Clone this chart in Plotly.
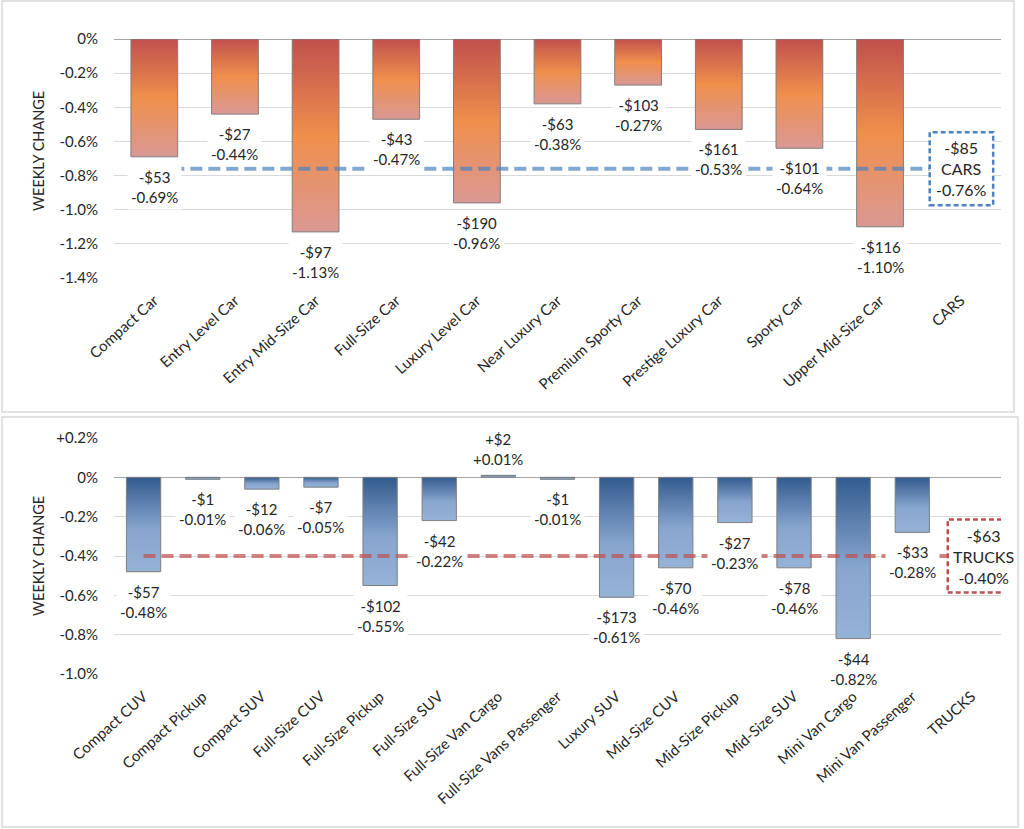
import plotly.graph_objects as go

# ---------------- data ----------------
car_categories = ["Compact Car", "Entry Level Car", "Entry Mid-Size Car", "Full-Size Car",
                  "Luxury Level Car", "Near Luxury Car", "Premium Sporty Car",
                  "Prestige Luxury Car", "Sporty Car", "Upper Mid-Size Car", "CARS"]
car_pct = [-0.69, -0.44, -1.13, -0.47, -0.96, -0.38, -0.27, -0.53, -0.64, -1.10]
car_usd = [-53, -27, -97, -43, -190, -63, -103, -161, -101, -116]
car_avg_pct = -0.76
car_avg_usd = -85
car_avg_label = "CARS"
car_yticks = [0, -0.2, -0.4, -0.6, -0.8, -1.0, -1.2, -1.4]
car_yticktext = ["0%", "-0.2%", "-0.4%", "-0.6%", "-0.8%", "-1.0%", "-1.2%", "-1.4%"]

truck_categories = ["Compact CUV", "Compact Pickup", "Compact SUV", "Full-Size CUV",
                    "Full-Size Pickup", "Full-Size SUV", "Full-Size Van Cargo",
                    "Full-Size Vans Passenger", "Luxury SUV", "Mid-Size CUV",
                    "Mid-Size Pickup", "Mid-Size SUV", "Mini Van Cargo",
                    "Mini Van Passenger", "TRUCKS"]
truck_pct = [-0.48, -0.01, -0.06, -0.05, -0.55, -0.22, 0.01, -0.01, -0.61, -0.46,
             -0.23, -0.46, -0.82, -0.28]
truck_usd = [-57, -1, -12, -7, -102, -42, 2, -1, -173, -70, -27, -78, -44, -33]
truck_avg_pct = -0.40
truck_avg_usd = -63
truck_avg_label = "TRUCKS"
truck_yticks = [0.2, 0, -0.2, -0.4, -0.6, -0.8, -1.0]
truck_yticktext = ["+0.2%", "0%", "-0.2%", "-0.4%", "-0.6%", "-0.8%", "-1.0%"]

# ---------------- style ----------------
W, H = 1024, 829
FONT = "Lato"
TXT = "#262626"
car_scale = [[0, "#DA9894"], [0.5, "#EF8F4C"], [1, "#C0504D"]]
truck_scale = [[0, "#95B3D7"], [0.45, "#87A5CE"], [1, "#335B8E"]]
BAR_HALF = 0.29


def px(xp):
    return xp / W


def py(yp):
    return 1 - yp / H


def fmt_usd(v):
    return ("+" if v > 0 else "-") + "$" + str(abs(v))


def fmt_pct(v):
    return ("+" if v > 0 else "-") + f"{abs(v):.2f}%"


fig = go.Figure()
annotations = []
shapes = []


def add_panel(cats, pct, usd, avg_pct, avg_usd, avg_label, scale, line_rgba, box_color,
              xref, yref, box_dx, box_text_shift):
    for i, v in enumerate(pct):
        xs = [i - BAR_HALF, i + BAR_HALF, i + BAR_HALF, i - BAR_HALF, i - BAR_HALF]
        ys = [0, 0, v, v, 0]
        fig.add_trace(go.Scatter(
            x=xs, y=ys, fill="toself", mode="lines",
            line=dict(color="#7F7F7F", width=1),
            fillgradient=dict(type="vertical", colorscale=scale),
            xaxis=xref, yaxis=yref, showlegend=False, hoverinfo="skip"))
        neg = v < 0
        annotations.append(dict(
            x=i, y=v, xref=xref, yref=yref, showarrow=False,
            text=fmt_usd(usd[i]) + "<br>" + fmt_pct(v),
            xanchor="center", yanchor="top" if neg else "bottom",
            yshift=-7 if neg else 3, bgcolor="white", borderpad=3,
            font=dict(family=FONT, size=15, color=TXT)))
    n = len(cats)
    fig.add_trace(go.Scatter(
        x=[0, n - 1], y=[avg_pct, avg_pct], mode="lines",
        line=dict(color=line_rgba, width=4, dash="12px,6px"),
        xaxis=xref, yaxis=yref, showlegend=False, hoverinfo="skip"))
    shapes.append(dict(
        type="rect", xref=xref, yref=yref, xsizemode="pixel", ysizemode="pixel",
        xanchor=n - 1, yanchor=avg_pct, x0=box_dx[0], x1=box_dx[1], y0=-36.5, y1=36.5,
        line=dict(color=box_color, width=2.5, dash="5px,3px"), fillcolor="white",
        layer="above"))
    annotations.append(dict(
        x=n - 1, y=avg_pct, xref=xref, yref=yref, showarrow=False,
        xanchor="center", yanchor="middle",
        text=fmt_usd(avg_usd) + "<br>" + avg_label + "<br>" + fmt_pct(avg_pct),
        xshift=box_text_shift, font=dict(family=FONT, size=16, color=TXT)))


add_panel(car_categories, car_pct, car_usd, car_avg_pct, car_avg_usd, car_avg_label,
          car_scale, "rgba(79,129,189,0.7)", "#4F81BD", "x", "y", (-31, 32.5), 0.5)
add_panel(truck_categories, truck_pct, truck_usd, truck_avg_pct, truck_avg_usd,
          truck_avg_label, truck_scale, "rgba(192,80,77,0.7)", "#C0504D", "x2", "y2",
          (-23.7, 46.9), 11.6)

# y-axis titles
for ycen in (151, 556):
    annotations.append(dict(x=px(38), y=py(ycen), xref="paper", yref="paper",
                            xanchor="center", yanchor="middle",
                            showarrow=False, text="WEEKLY CHANGE", textangle=-90,
                            font=dict(family=FONT, size=14.5, color=TXT)))

# panel borders
shapes.append(dict(type="rect", xref="paper", yref="paper", x0=px(2), x1=px(1014),
                   y0=py(412), y1=py(1), line=dict(color="#D9D9D9", width=1.5),
                   layer="below"))
shapes.append(dict(type="rect", xref="paper", yref="paper", x0=px(2), x1=px(1018),
                   y0=py(827), y1=py(417), line=dict(color="#D9D9D9", width=1.5),
                   layer="below"))

tickfont = dict(family=FONT, size=15, color=TXT)
xcommon = dict(showgrid=False, zeroline=False, showline=False, ticks="", automargin=False,
               tickangle=-42, tickfont=tickfont, ticklabelstandoff=10, fixedrange=True)
ycommon = dict(showgrid=True, gridcolor="#D9D9D9", gridwidth=1, zeroline=True,
               zerolinecolor="#A6A6A6", zerolinewidth=1.3, showline=False, ticks="",
               automargin=False, tickfont=tickfont, ticklabelstandoff=15, fixedrange=True)

fig.update_layout(
    template="none",
    width=W, height=H, margin=dict(l=0, r=0, t=0, b=0, autoexpand=False),
    paper_bgcolor="white", plot_bgcolor="white", showlegend=False,
    xaxis=dict(domain=[px(114), px(1001)], range=[-0.5, len(car_categories) - 0.5],
               tickvals=list(range(len(car_categories))), ticktext=car_categories,
               anchor="y", **xcommon),
    yaxis=dict(domain=[py(278), py(39)], range=[-1.4, 0], tickvals=car_yticks,
               ticktext=car_yticktext, anchor="x", **ycommon),
    xaxis2=dict(domain=[px(114), px(1001)], range=[-0.5, len(truck_categories) - 0.5],
                tickvals=list(range(len(truck_categories))), ticktext=truck_categories,
                anchor="y2", **xcommon),
    yaxis2=dict(domain=[py(674), py(438)], range=[-1.0, 0.2], tickvals=truck_yticks,
                ticktext=truck_yticktext, anchor="x2", **ycommon),
    annotations=annotations, shapes=shapes,
)

fig.write_html("out.html", config={"displayModeBar": False},
               post_script="document.body.style.margin='0';"
                           "document.body.style.overflow='hidden';")
